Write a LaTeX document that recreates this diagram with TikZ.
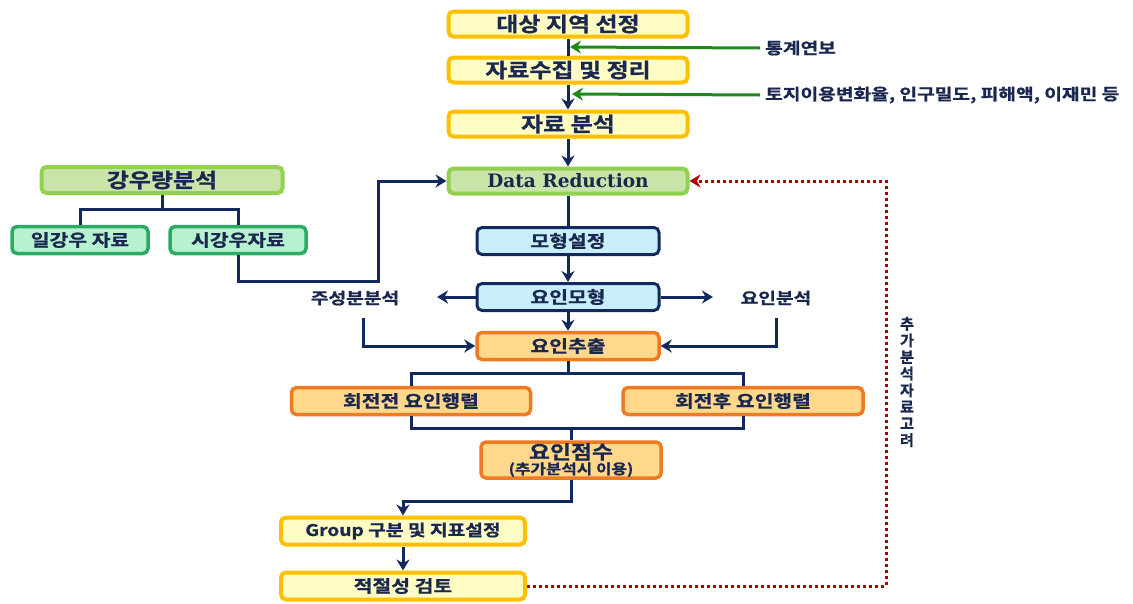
\documentclass[tikz,border=0pt]{standalone}
\usepackage{fontspec}
\setmainfont{Noto Sans CJK KR}[FakeStretch=1.2, BoldFont={* Bold}, BoldFeatures={FakeBold=1}]
\newfontfamily\plainkr{Noto Sans CJK KR}[BoldFont={* Bold}, BoldFeatures={FakeBold=1}]
\newfontfamily\drserif{DejaVu Serif}
\usetikzlibrary{arrows.meta,positioning}
\definecolor{navy}{HTML}{13295E}
\definecolor{txt}{HTML}{1A2850}
\definecolor{ybord}{HTML}{FFC000}
\definecolor{yfill}{HTML}{FFFCC4}
\definecolor{gbord}{HTML}{92D050}
\definecolor{gfill}{HTML}{C9E4A8}
\definecolor{mbord}{HTML}{2DAA64}
\definecolor{mfill}{HTML}{B6F2CF}
\definecolor{bfill}{HTML}{C8EDFB}
\definecolor{obord}{HTML}{EE7A22}
\definecolor{ofill}{HTML}{FFD88C}
\definecolor{dred}{HTML}{B00000}
\definecolor{dgreen}{HTML}{1E8A1E}
\tikzset{
  box/.style={rounded corners=5pt, text=txt, font=\bfseries\fontsize{17}{19}\selectfont, inner sep=0pt, align=center},
  ybox/.style={box, draw=ybord, fill=yfill, line width=4pt},
  gbox/.style={box, draw=gbord, fill=gfill, line width=4pt},
  mbox/.style={box, draw=mbord, fill=mfill, line width=3.5pt},
  bbox/.style={box, draw=navy, fill=bfill, line width=3pt},
  obox/.style={box, draw=obord, fill=ofill, line width=3.5pt},
  conn/.style={draw=navy, line width=3pt},
  arr/.style={conn, -{Stealth[length=11pt,width=13pt]}},
  garr/.style={draw=dgreen, line width=3pt, -{Stealth[length=11pt,width=13pt]}},
  lbl/.style={text=txt, font=\bfseries\fontsize{16}{18}\selectfont, inner sep=0pt},
}
\begin{document}
\begin{tikzpicture}[x=1pt,y=-1pt]
\useasboundingbox (0,0) rectangle (1133,603);
% yellow top boxes
\node[ybox, minimum width=239pt, minimum height=25pt, font=\bfseries\fontsize{20}{22}\selectfont] (s1) at (568,24) {대상 지역 선정};
\node[ybox, minimum width=239pt, minimum height=25pt, font=\bfseries\fontsize{20}{22}\selectfont] (s2) at (568,70) {자료수집 및 정리};
\node[ybox, minimum width=239pt, minimum height=25pt, font=\bfseries\fontsize{20}{22}\selectfont] (s3) at (568,124) {자료 분석};
\node[gbox, minimum width=239pt, minimum height=25pt, font=\fontsize{18.5}{20}\drserif\bfseries] (dr) at (568,181) {Data Reduction};
% rainfall
\node[gbox, minimum width=241pt, minimum height=26pt, font=\bfseries\fontsize{20}{22}\selectfont] (rain) at (162,180) {강우량분석};
\node[mbox, minimum width=136pt, minimum height=27pt] (daily) at (80,240) {일강우 자료};
\node[mbox, minimum width=136pt, minimum height=27pt] (hourly) at (238,240) {시강우자료};
% blue
\node[bbox, minimum width=182pt, minimum height=27pt] (model) at (568,241) {모형설정};
\node[bbox, minimum width=182pt, minimum height=27pt] (fmodel) at (568,297) {요인모형};
\node[lbl] (pca) at (355,298) {주성분분석};
\node[lbl] (fa) at (776,298) {요인분석};
% orange
\node[obox, minimum width=182pt, minimum height=27pt] (ext) at (568,346) {요인추출};
\node[obox, minimum width=239pt, minimum height=27pt] (pre) at (411,401) {회전전 요인행렬};
\node[obox, minimum width=240pt, minimum height=27pt] (post) at (743,401) {회전후 요인행렬};
\node[obox, minimum width=180pt, minimum height=36pt] (score) at (571,460) {{\fontsize{19}{20}\selectfont 요인점수}\\[-4pt]{\fontsize{14}{15}\selectfont (추가분석시 이용)}};
% bottom yellow
\node[ybox, minimum width=244pt, minimum height=27pt, font=\bfseries\fontsize{16}{18}\selectfont] (grp) at (403,531) {Group 구분 및 지표설정};
\node[ybox, minimum width=244pt, minimum height=27pt] (chk) at (403,586) {적절성 검토};
% side labels
\node[lbl, anchor=west] (l1) at (765,48) {통계연보};
\node[lbl, anchor=west] (l2) at (765,95) {토지이용변화율, 인구밀도, 피해액, 이재민 등};
\node[lbl, align=center, font=\plainkr\bfseries\fontsize{15}{16.6}\selectfont] (side) at (907,382) {추\\가\\분\\석\\자\\료\\고\\려};
% coordinates
\coordinate (g1) at (570,47);
\coordinate (g2) at (572,94);
% connectors
\draw[conn] (s1.south) -- (s2.north);
\draw[arr] (s2.south) -- (s3.north);
\draw[garr] (l1.west) ++(-5,0) coordinate (l1e) (l1e) -- (g1);
\draw[garr] (l2.west) ++(-5,0) coordinate (l2e) (l2e) -- (g2);
\draw[arr] (s3.south) -- (dr.north);
\draw[conn] (dr.south) -- (model.north);
\draw[arr] (model.south) -- (fmodel.north);
\draw[arr] (fmodel.south) -- (ext.north);
\draw[arr] (fmodel.west) -- (437,297);
\draw[arr] (fmodel.east) -- (713,297);
\draw[arr] (363,318) |- (ext.west);
\draw[arr] (776,318) |- (ext.east);
\draw[conn] (rain.south) -- (162,209);
\draw[conn] (daily.north) |- (162,209) -| (hourly.north);
\draw[arr] (hourly.south) |- (378,281) |- (dr.west);
\draw[conn] (ext.south) -- (568,373);
\draw[conn] (pre.north) |- (568,373) -| (post.north);
\draw[conn] (pre.south) |- (571,428) -| (post.south);
\draw[conn] (571,428) -- (score.north);
\draw[arr] (score.south) |- (403,501) -- (grp.north);
\draw[arr] (grp.south) -- (chk.north);
\draw[draw=dred, line width=3pt, dash pattern=on 3pt off 3pt, -{Stealth[length=11pt,width=13pt]}] (chk.east) -| (886,181) -- (dr.east);
\end{tikzpicture}
\end{document}
